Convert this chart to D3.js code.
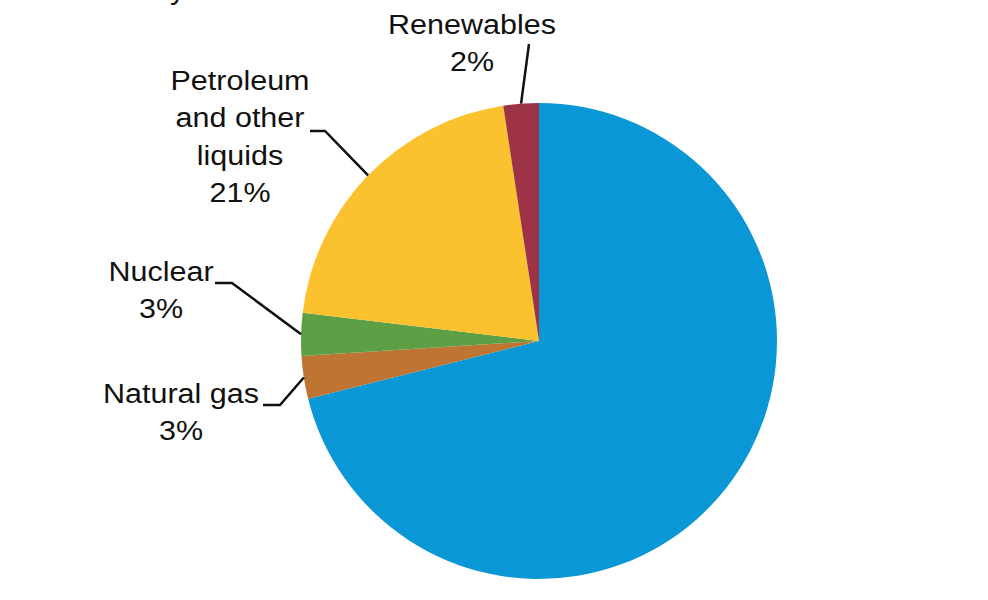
<!DOCTYPE html>
<html>
<head>
<meta charset="utf-8">
<script src="https://cdn.jsdelivr.net/npm/d3@7"></script>
<style>
  body { margin: 0; background: #fff; }
  text { font-family: "Liberation Sans", Arial, sans-serif; fill: #111; }
</style>
</head>
<body>
<svg id="chart" width="988" height="600"></svg>
<script>
// data (clockwise from 12 o'clock)
const categories = ["Coal", "Natural gas", "Nuclear", "Petroleum and other liquids", "Renewables"];
const shares     = [71.1, 2.9, 2.9, 20.7, 2.4];
const labelLines = [
  null,
  ["Natural gas", "3%"],
  ["Nuclear", "3%"],
  ["Petroleum", "and other", "liquids", "21%"],
  ["Renewables", "2%"]
];
const colors = ["#0A97D5", "#BE7432", "#5C9F45", "#FCC12E", "#9C3446"];

// size and layout
const svg = d3.select("#chart");
const cx = 539, cy = 341, radius = 238;
const fontSize = 27, stretch = 1.13, lineHeight = 37.5;

// label placement: text centre x, first baseline y, elbow point (or null)
const labelPos = [
  null,
  { x: 181, y: 403, elbow: [280, 405], start: [263, 405] },
  { x: 161, y: 281, elbow: [232, 283], start: [215, 283] },
  { x: 240, y: 90,  elbow: [325, 131], start: [310, 131] },
  { x: 472, y: 34,  elbow: null,       start: [529, 44] }
];

// partially cropped title descender
svg.append("g")
  .attr("transform", `translate(170,-1) scale(${stretch},1)`)
  .append("text")
  .attr("font-size", fontSize)
  .text("y");

const g = svg.append("g")
  .attr("transform", `translate(${cx},${cy})`);

const pie = d3.pie().sort(null).value(d => d);
const arcs = pie(shares);
const arc = d3.arc().innerRadius(0).outerRadius(radius);

g.selectAll("path.slice")
  .data(arcs)
  .enter()
  .append("path")
  .attr("class", "slice")
  .attr("d", arc)
  .attr("fill", (d, i) => colors[i]);

// leader lines and labels
arcs.forEach((d, i) => {
  const lp = labelPos[i];
  if (!lp) return;
  const mid = (d.startAngle + d.endAngle) / 2;
  const end = [cx + radius * Math.sin(mid), cy - radius * Math.cos(mid)];
  const pts = lp.elbow ? [lp.start, lp.elbow, end] : [lp.start, end];
  svg.append("path")
    .attr("d", d3.line()(pts))
    .attr("fill", "none")
    .attr("stroke", "#111")
    .attr("stroke-width", 2.5);

  const t = svg.append("g")
    .attr("transform", `translate(${lp.x},${lp.y}) scale(${stretch},1)`)
    .append("text")
    .attr("text-anchor", "middle")
    .attr("font-size", fontSize);
  labelLines[i].forEach((s, k) => {
    t.append("tspan")
      .attr("x", 0)
      .attr("y", k * lineHeight)
      .text(s);
  });
});
</script>
</body>
</html>
